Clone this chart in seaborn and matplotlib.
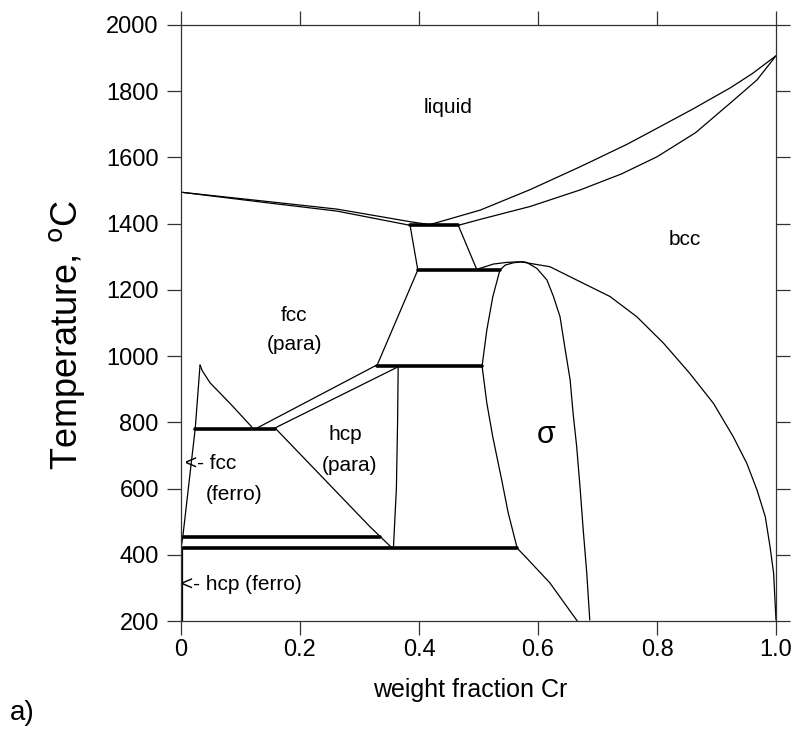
import matplotlib
matplotlib.use("Agg")
import matplotlib.pyplot as plt
import seaborn as sns

# ---------------- data ----------------
liq_left_x = [0.0, 0.15, 0.262, 0.385, 0.418]
liq_left_T = [1495, 1466, 1444, 1406, 1397]
sol_left_x = [0.0, 0.15, 0.262, 0.385]
sol_left_T = [1495, 1462, 1438, 1395]

liq_right_x = [0.418, 0.503, 0.587, 0.671, 0.75, 0.80, 0.86, 0.923, 0.96, 1.0]
liq_right_T = [1397, 1441, 1503, 1572, 1640, 1688, 1746, 1810, 1853, 1907]
sol_right_x = [0.466, 0.503, 0.587, 0.671, 0.74, 0.80, 0.865, 0.923, 0.968, 1.0]
sol_right_T = [1395, 1413, 1452, 1502, 1550, 1602, 1675, 1764, 1834, 1907]

bcc_upper_x = [0.466, 0.497]
bcc_upper_T = [1395, 1262]
fcc_upper_x = [0.385, 0.398]
fcc_upper_T = [1395, 1260]
fcc_mid_x = [0.398, 0.329]
fcc_mid_T = [1260, 970]

sigma_left_x = [0.575, 0.559, 0.545, 0.536, 0.524, 0.514, 0.506, 0.514, 0.524, 0.539, 0.550, 0.565]
sigma_left_T = [1285, 1282, 1275, 1260, 1179, 1079, 970, 858, 756, 626, 526, 420]
sigma_low_x = [0.565, 0.581, 0.620, 0.666]
sigma_low_T = [420, 390, 315, 200]
sigma_right_x = [0.575, 0.581, 0.598, 0.615, 0.626, 0.637, 0.645, 0.654, 0.659, 0.665, 0.671, 0.676, 0.682, 0.687]
sigma_right_T = [1285, 1283, 1265, 1230, 1180, 1119, 1028, 928, 827, 727, 596, 475, 344, 203]
bcc_solvus_x = [0.497, 0.525, 0.547, 0.570, 0.620, 0.676, 0.721, 0.766, 0.811, 0.855, 0.895,
                0.928, 0.951, 0.968, 0.982, 0.990, 0.996, 0.998, 1.0]
bcc_solvus_T = [1262, 1278, 1283, 1285, 1270, 1220, 1180, 1119, 1039, 948, 857,
                757, 676, 596, 515, 424, 344, 273, 203]

diag_up_x = [0.128, 0.329]
diag_up_T = [783, 973]
diag_lo_x = [0.158, 0.363]
diag_lo_T = [783, 966]
hcp_right_x = [0.365, 0.364, 0.362, 0.357]
hcp_right_T = [966, 800, 600, 420]
fcc_hcp_x = [0.158, 0.318, 0.355]
fcc_hcp_T = [783, 484, 420]

cusp_left_x = [0.032, 0.024, 0.003, 0.001]
cusp_left_T = [973, 783, 454, 430]
cusp_right_x = [0.032, 0.036, 0.049, 0.082, 0.119]
cusp_right_T = [973, 955, 919, 858, 786]
hcp_ferro_x = [0.002, 0.002]
hcp_ferro_T = [420, 200]

thin_curves = [
    (liq_left_x, liq_left_T), (sol_left_x, sol_left_T),
    (liq_right_x, liq_right_T), (sol_right_x, sol_right_T),
    (bcc_upper_x, bcc_upper_T), (fcc_upper_x, fcc_upper_T), (fcc_mid_x, fcc_mid_T),
    (sigma_left_x, sigma_left_T), (sigma_low_x, sigma_low_T),
    (sigma_right_x, sigma_right_T), (bcc_solvus_x, bcc_solvus_T),
    (diag_up_x, diag_up_T), (diag_lo_x, diag_lo_T), (hcp_right_x, hcp_right_T),
    (fcc_hcp_x, fcc_hcp_T), (cusp_left_x, cusp_left_T), (cusp_right_x, cusp_right_T),
    (hcp_ferro_x, hcp_ferro_T),
]

iso_T = [1395, 1260, 970, 780, 454, 420]
iso_x0 = [0.385, 0.398, 0.329, 0.024, 0.003, 0.0]
iso_x1 = [0.466, 0.536, 0.506, 0.158, 0.334, 0.565]

x_ticks = [0, 0.2, 0.4, 0.6, 0.8, 1.0]
x_ticklabels = ["0", "0.2", "0.4", "0.6", "0.8", "1.0"]
y_ticks = [200, 400, 600, 800, 1000, 1200, 1400, 1600, 1800, 2000]

# text, x, T, horizontal alignment
region_labels = [
    ("liquid", 0.449, 1752, "center"),
    ("bcc", 0.847, 1351, "center"),
    ("fcc", 0.19, 1124, "center"),
    ("(para)", 0.19, 1034, "center"),
    ("hcp", 0.276, 762, "center"),
    ("(para)", 0.284, 671, "center"),
    ("<- fcc", 0.007, 677, "left"),
    ("(ferro)", 0.089, 581, "center"),
    ("<- hcp (ferro)", 0.0, 309, "left"),
]

# ---------------- plotting ----------------
sns.set_theme(style="white")
plt.rcParams['font.family'] = ['Liberation Sans', 'DejaVu Sans']
plt.rcParams['text.color'] = 'black'
plt.rcParams['axes.labelcolor'] = 'black'
plt.rcParams['xtick.color'] = 'black'
plt.rcParams['ytick.color'] = 'black'

fig = plt.figure(figsize=(7.96, 7.30), dpi=100)
ax = fig.add_axes([181/796, 1-621/730, (776-181)/796, (621-25)/730])

for xs, ts in thin_curves:
    sns.lineplot(x=xs, y=ts, sort=False, estimator=None, color="black", lw=0.9, ax=ax)

for T, a, b in zip(iso_T, iso_x0, iso_x1):
    sns.lineplot(x=[a, b], y=[T, T], sort=False, estimator=None, color="black", lw=2.6, ax=ax)

ax.set_xlim(0, 1.0)
ax.set_ylim(200, 2000)
ax.set_xticks(x_ticks)
ax.set_xticklabels(x_ticklabels)
ax.set_yticks(y_ticks)
ax.tick_params(axis="both", which="both", direction="out", length=10, width=0.9,
               color="#333333", labelcolor="black", labelsize=17,
               top=True, right=True, left=True, bottom=True)
ax.tick_params(axis="x", pad=3)
ax.tick_params(axis="y", pad=6)
for s in ax.spines.values():
    s.set_color("#333333")
    s.set_linewidth(0.9)

ax.set_xlabel("weight fraction Cr", fontsize=18)
ax.xaxis.set_label_coords(0.486, -0.095)
ax.set_ylabel("Temperature, $^{\\mathrm{o}}$C", fontsize=26)
ax.yaxis.set_label_coords(-0.158, 0.48)

for txt, x, y, ha in region_labels:
    ax.text(x, y, txt, fontsize=15, ha=ha, va="center", color="black")
ax.text(0.613, 762, "σ", fontsize=22, ha="center", va="center", color="black")

fig.text(10/796, 1-713/730, "a)", fontsize=20, ha="left", va="center")

fig.savefig("out.png", dpi=100)
